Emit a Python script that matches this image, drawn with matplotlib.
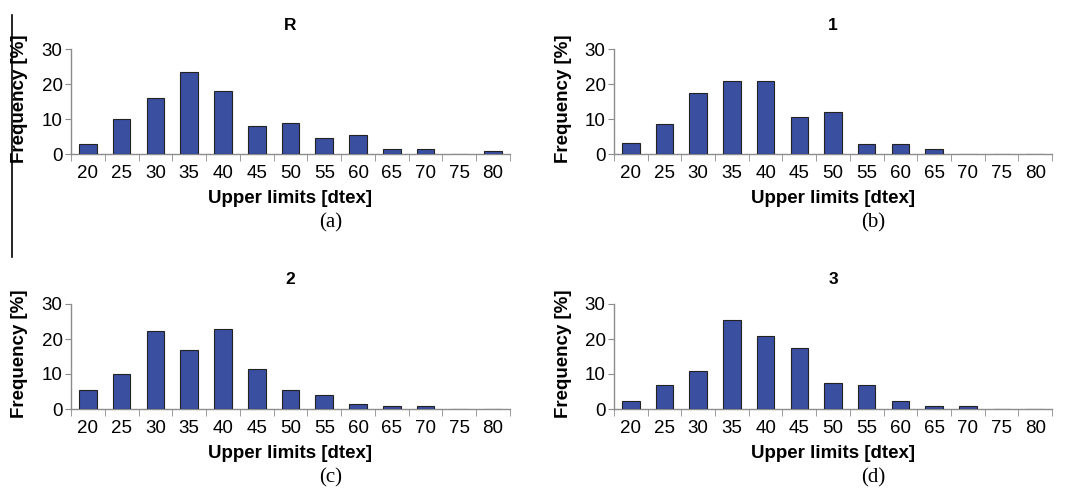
import numpy as np
import matplotlib.pyplot as plt
from matplotlib.lines import Line2D

limits = ['20', '25', '30', '35', '40', '45', '50', '55', '60', '65', '70', '75', '80']
freq_r = [2.8, 9.9, 15.9, 23.3, 18.0, 8.0, 8.8, 4.7, 5.3, 1.4, 1.4, 0.0, 0.8]
freq_1 = [3.2, 8.7, 17.3, 20.8, 20.8, 10.7, 12.0, 2.8, 2.8, 1.4, 0.0, 0.0, 0.0]
freq_2 = [5.5, 10.1, 22.2, 16.8, 22.9, 11.5, 5.5, 4.1, 1.5, 0.8, 0.8, 0.0, 0.0]
freq_3 = [2.2, 6.9, 10.8, 25.5, 20.9, 17.5, 7.5, 6.9, 2.2, 0.8, 0.8, 0.0, 0.0]
titles = ['R', '1', '2', '3']
captions = ['(a)', '(b)', '(c)', '(d)']

W, H = 1067, 498
plt.rcParams['font.family'] = 'Liberation Sans'
fig = plt.figure(figsize=(W / 100, H / 100), dpi=100)

bar_color = '#3B4FA0'
spine_color = '#8c8c8c'

def px_axes(x0, y_top, x1, y_bot):
    return fig.add_axes([x0 / W, 1 - y_bot / H, (x1 - x0) / W, (y_bot - y_top) / H])

def draw_panel(x0, x1, y_top, y_zero, values, title, caption):
    ax = px_axes(x0, y_top, x1, y_zero)
    x = np.arange(len(limits))
    ax.bar(x, values, width=0.52, color=bar_color, edgecolor='#222222', linewidth=0.8, zorder=3)
    ax.set_xlim(-0.5, len(limits) - 0.5)
    ax.set_ylim(0, 30)
    ax.set_yticks([0, 10, 20, 30])
    ax.set_xticks(x)
    ax.set_xticklabels(limits)
    ax.set_xticks(np.arange(-0.5, len(limits), 1.0), minor=True)
    ax.tick_params(axis='x', which='major', length=0, labelsize=13.5, pad=8)
    ax.tick_params(axis='x', which='minor', length=5, color=spine_color, direction='out')
    ax.tick_params(axis='y', length=4, color=spine_color, labelsize=13.5, pad=2)
    for s in ['top', 'right']:
        ax.spines[s].set_visible(False)
    for s in ['left', 'bottom']:
        ax.spines[s].set_color(spine_color)
        ax.spines[s].set_linewidth(1.0)
    ax.patch.set_alpha(0)
    cx = (x0 + x1) / 2
    fig.text(cx / W, 1 - (y_top - 24) / H, title, ha='center', va='center', fontsize=12.5, fontweight='bold')
    fig.text(cx / W, 1 - (y_zero + 44) / H, 'Upper limits [dtex]', ha='center', va='center', fontsize=13.5, fontweight='bold')
    fig.text((x0 - 51) / W, 1 - (y_zero - 55) / H, 'Frequency [%]', ha='center', va='center',
             rotation=90, fontsize=13.5, fontweight='bold')
    fig.text((cx + 40) / W, 1 - (y_zero + 69) / H, caption, ha='center', va='center', fontsize=15,
             family='Liberation Serif')
    return ax

draw_panel(71, 510, 49, 154, freq_r, titles[0], captions[0])
draw_panel(614, 1052, 49, 154, freq_1, titles[1], captions[1])
draw_panel(71, 510, 304, 409, freq_2, titles[2], captions[2])
draw_panel(614, 1052, 304, 409, freq_3, titles[3], captions[3])

fig.add_artist(Line2D([12 / W, 12 / W], [1 - 15 / H, 1 - 257 / H], color='black', linewidth=1.2))

fig.savefig('out.png', dpi=100)
